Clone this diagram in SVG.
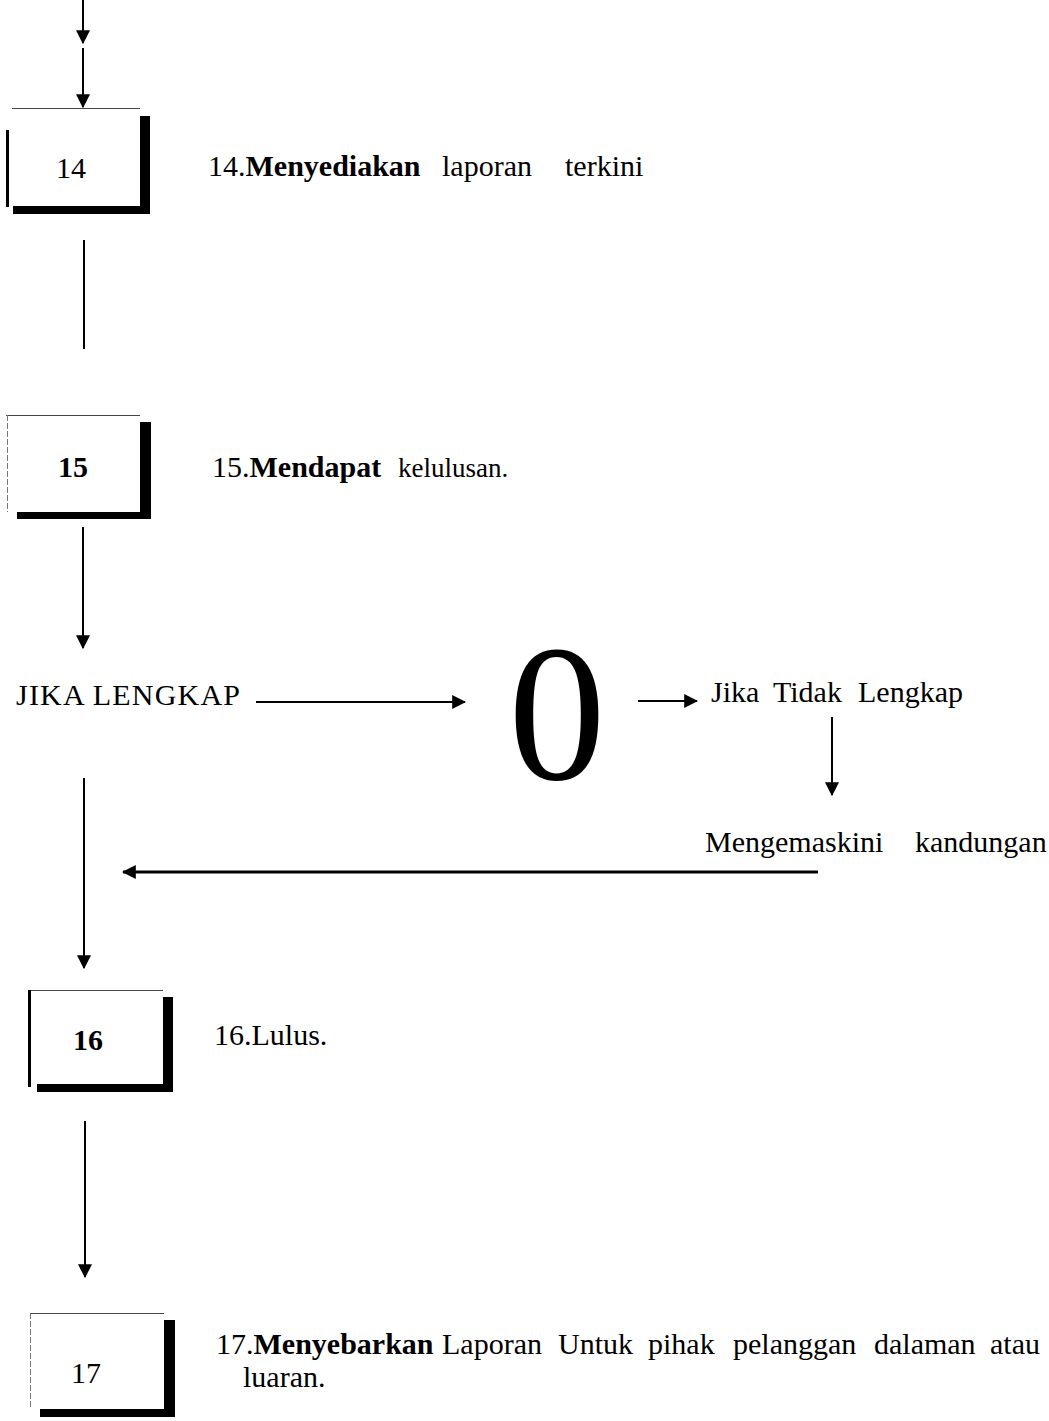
<svg xmlns="http://www.w3.org/2000/svg" width="1049" height="1421" viewBox="0 0 1049 1421">
  <style>
    text { font-family: "Liberation Serif", "Times New Roman", serif; fill: #000; }
    .num { font-size: 30px; text-anchor: middle; }
    .desc { font-size: 30px; }
    .b { font-weight: bold; }
    .edge { stroke: #444; stroke-width: 1; fill: none; }
    .edge-faint { stroke: #777; stroke-width: 1; stroke-dasharray: 6 2; fill: none; }
    .shadow { fill: #000; }
    .conn { stroke: #000; stroke-width: 2; fill: none; }
    .conn-thick { stroke: #000; stroke-width: 3; fill: none; }
  </style>
  <defs>
    <marker id="arrow" markerUnits="userSpaceOnUse" markerWidth="14" markerHeight="14" viewBox="0 0 12 12" refX="11" refY="6" orient="auto">
      <path d="M0,0 L12,6 L0,12 Z" fill="#000"/>
    </marker>
  </defs>
  <rect width="1049" height="1421" fill="#fff"/>

  <!-- connectors -->
  <g id="connectors">
    <line class="conn" x1="83" y1="0" x2="83" y2="43" marker-end="url(#arrow)"/>
    <line class="conn" x1="83" y1="48" x2="83" y2="107" marker-end="url(#arrow)"/>
    <line class="conn" x1="84" y1="240" x2="84" y2="349"/>
    <line class="conn" x1="83" y1="527" x2="83" y2="648" marker-end="url(#arrow)"/>
    <line class="conn" x1="256" y1="702" x2="465" y2="702" marker-end="url(#arrow)"/>
    <line class="conn" x1="638" y1="701" x2="697" y2="701" marker-end="url(#arrow)"/>
    <line class="conn" x1="832" y1="717" x2="832" y2="795" marker-end="url(#arrow)"/>
    <line class="conn-thick" x1="818" y1="872" x2="123" y2="872" marker-end="url(#arrow)"/>
    <line class="conn" x1="84" y1="778" x2="84" y2="968" marker-end="url(#arrow)"/>
    <line class="conn" x1="85" y1="1121" x2="85" y2="1277" marker-end="url(#arrow)"/>
  </g>

  <!-- step 14 -->
  <g id="step14">
    <line class="edge" x1="12" y1="108.5" x2="140" y2="108.5"/>
    <rect class="shadow" x="6" y="130" width="3" height="77"/>
    <rect class="shadow" x="140" y="116" width="10" height="98"/>
    <rect class="shadow" x="13" y="206" width="137" height="8"/>
    <text class="num" x="71" y="178">14</text>
    <text class="desc" x="208" y="176">14.<tspan class="b">Menyediakan</tspan><tspan x="442">laporan</tspan><tspan x="565">terkini</tspan></text>
  </g>

  <!-- step 15 -->
  <g id="step15">
    <line class="edge" x1="6" y1="415.5" x2="140" y2="415.5"/>
    <line class="edge-faint" x1="7.5" y1="415" x2="7.5" y2="512"/>
    <rect class="shadow" x="140" y="422" width="11" height="97"/>
    <rect class="shadow" x="17" y="512" width="134" height="7"/>
    <text class="num b" x="73" y="477" font-size="28">15</text>
    <text class="desc" x="212" y="477" font-size="28">15.<tspan class="b">Mendapat</tspan><tspan x="398" font-size="27">kelulusan.</tspan></text>
  </g>

  <!-- decision -->
  <g id="decision">
    <text class="desc" x="16" y="705" font-size="31" textLength="224" lengthAdjust="spacing">JIKA LENGKAP</text>
    <text x="557" y="779" font-size="195" text-anchor="middle">0</text>
    <text class="desc" x="711" y="702">Jika<tspan x="773">Tidak</tspan><tspan x="858">Lengkap</tspan></text>
  </g>

  <!-- update content -->
  <g id="update">
    <text class="desc" x="705" y="852">Mengemaskini<tspan x="915">kandungan</tspan></text>
  </g>

  <!-- step 16 -->
  <g id="step16">
    <line class="edge" x1="30" y1="990.5" x2="163" y2="990.5"/>
    <rect class="shadow" x="28" y="990" width="3" height="97"/>
    <rect class="shadow" x="163" y="997" width="10" height="95"/>
    <rect class="shadow" x="37" y="1084" width="136" height="8"/>
    <text class="num b" x="88" y="1050" font-size="28">16</text>
    <text class="desc" x="214" y="1045">16.Lulus.</text>
  </g>

  <!-- step 17 -->
  <g id="step17">
    <line class="edge" x1="30" y1="1313.5" x2="164" y2="1313.5"/>
    <line class="edge-faint" x1="30.5" y1="1313" x2="30.5" y2="1409"/>
    <rect class="shadow" x="164" y="1320" width="11" height="97"/>
    <rect class="shadow" x="40" y="1409" width="135" height="8"/>
    <text class="num" x="86" y="1383">17</text>
    <text class="desc" x="216" y="1354" font-size="29">17.<tspan class="b">Menyebarkan</tspan><tspan x="442">Laporan</tspan><tspan x="558">Untuk</tspan><tspan x="648">pihak</tspan><tspan x="733">pelanggan</tspan><tspan x="874">dalaman</tspan><tspan x="990">atau</tspan></text>
    <text class="desc" x="243" y="1387" font-size="29">luaran.</text>
  </g>
</svg>
